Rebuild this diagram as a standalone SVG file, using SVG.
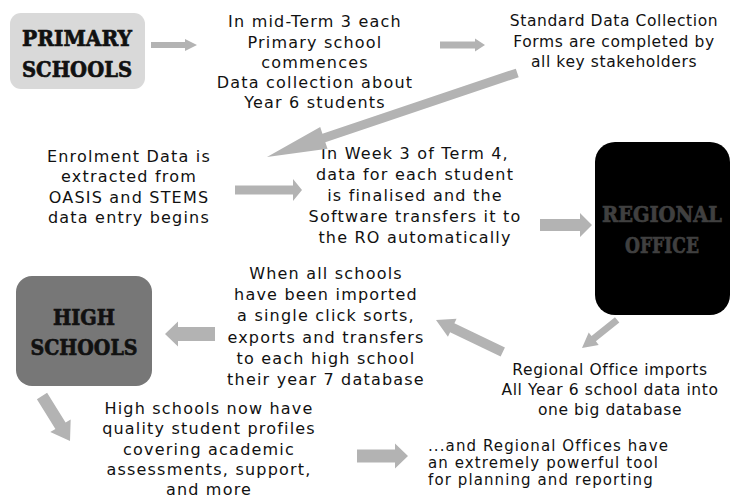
<svg xmlns="http://www.w3.org/2000/svg" width="747" height="499" viewBox="0 0 747 499">
<style>
.t{font-family:"DejaVu Sans",Verdana,sans-serif;font-size:16px;letter-spacing:1.2px;fill:#111;text-anchor:middle}
.m{font-size:15.5px;letter-spacing:0.6px}
.s{font-size:15px;letter-spacing:1.1px;text-anchor:start}
.h{font-family:"DejaVu Serif","Liberation Serif",serif;font-weight:bold;font-size:22px;text-anchor:middle;stroke-width:0.7}
.a{fill:#b3b3b3}
</style>
<rect width="747" height="499" fill="#fff"/>
<g id="primary">
<rect x="10" y="13" width="135" height="76" rx="11" fill="#d9d9d9"/>
<text class="h" x="77" y="46" fill="#111" stroke="#111" textLength="110" lengthAdjust="spacingAndGlyphs">PRIMARY</text>
<text class="h" x="77" y="77" fill="#111" stroke="#111" textLength="110" lengthAdjust="spacingAndGlyphs">SCHOOLS</text>
</g>
<g id="regional">
<rect x="595" y="142" width="135" height="173" rx="20" fill="#000"/>
<text class="h" x="662" y="222" fill="#404040" stroke="#404040" textLength="120" lengthAdjust="spacingAndGlyphs">REGIONAL</text>
<text class="h" x="662" y="253" fill="#404040" stroke="#404040" textLength="74" lengthAdjust="spacingAndGlyphs">OFFICE</text>
</g>
<g id="high">
<rect x="16" y="276" width="136" height="110" rx="16" fill="#777"/>
<text class="h" x="84" y="325" fill="#111" stroke="#111" textLength="62" lengthAdjust="spacingAndGlyphs">HIGH</text>
<text class="h" x="84" y="355" fill="#111" stroke="#111" textLength="107" lengthAdjust="spacingAndGlyphs">SCHOOLS</text>
</g>
<g id="step1">
<text class="t"><tspan x="315" y="27">In mid-Term 3 each</tspan><tspan x="315" y="48">Primary school</tspan><tspan x="315" y="68">commences</tspan><tspan x="315" y="88">Data collection about</tspan><tspan x="315" y="108">Year 6 students</tspan></text>
</g>
<g id="step2">
<text class="t m"><tspan x="614" y="26">Standard Data Collection</tspan><tspan x="614" y="47">Forms are completed by</tspan><tspan x="614" y="67">all key stakeholders</tspan></text>
</g>
<g id="step3">
<text class="t"><tspan x="129" y="162">Enrolment Data is</tspan><tspan x="129" y="182">extracted from</tspan><tspan x="129" y="203">OASIS and STEMS</tspan><tspan x="129" y="223">data entry begins</tspan></text>
</g>
<g id="step4">
<text class="t"><tspan x="415" y="159">In Week 3 of Term 4,</tspan><tspan x="415" y="180">data for each student</tspan><tspan x="415" y="201">is finalised and the</tspan><tspan x="415" y="222">Software transfers it to</tspan><tspan x="415" y="243">the RO automatically</tspan></text>
</g>
<g id="step5">
<text class="t m"><tspan x="610" y="375">Regional Office imports</tspan><tspan x="610" y="395">All Year 6 school data into</tspan><tspan x="610" y="415">one big database</tspan></text>
</g>
<g id="step6">
<text class="t"><tspan x="326" y="279">When all schools</tspan><tspan x="326" y="300">have been imported</tspan><tspan x="326" y="321">a single click sorts,</tspan><tspan x="326" y="343">exports and transfers</tspan><tspan x="326" y="364">to each high school</tspan><tspan x="326" y="385">their year 7 database</tspan></text>
</g>
<g id="step7">
<text class="t"><tspan x="209" y="414">High schools now have</tspan><tspan x="209" y="434">quality student profiles</tspan><tspan x="209" y="455">covering academic</tspan><tspan x="209" y="475">assessments, support,</tspan><tspan x="209" y="495">and more</tspan></text>
</g>
<g id="step8">
<text class="t s"><tspan x="428" y="451">...and Regional Offices have</tspan><tspan x="428" y="468">an extremely powerful tool</tspan><tspan x="428" y="485">for planning and reporting</tspan></text>
</g>
<g id="connectors" class="a">
<polygon points="151,42 185,42 185,39 197,45 185,51 185,48 151,48"/>
<polygon points="440,41.5 475,41.5 475,38.5 485,45 475,51.5 475,48.5 440,48.5"/>
<polygon points="235,185.5 293,185.5 293,179 302,190 293,201 293,194.5 235,194.5"/>
<polygon points="540,219 580,219 580,213 592,225 580,237 580,231 540,231"/>
<polygon points="215,327 178,327 178,321.5 165,334 178,346.5 178,341 215,341"/>
<polygon points="357,449.5 395,449.5 395,443.5 408,456 395,468.5 395,462.5 357,462.5"/>
<polygon transform="translate(267,157) rotate(161.43)" points="-264,-4.5 -60,-4.5 -60,-11.5 0,0 -60,11.5 -60,4.5 -264,4.5"/>
<polygon transform="translate(582,348) rotate(141.34)" points="-45,-3.5 -15,-3.5 -15,-8 0,0 -15,8 -15,3.5 -45,3.5"/>
<polygon transform="translate(436,320) rotate(205.53)" points="-74,-5 -18,-5 -18,-10 0,0 -18,10 -18,5 -74,5"/>
<polygon transform="translate(70,441) rotate(58.1)" points="-53,-6 -18,-6 -18,-12 0,0 -18,12 -18,6 -53,6"/>
</g>
</svg>
